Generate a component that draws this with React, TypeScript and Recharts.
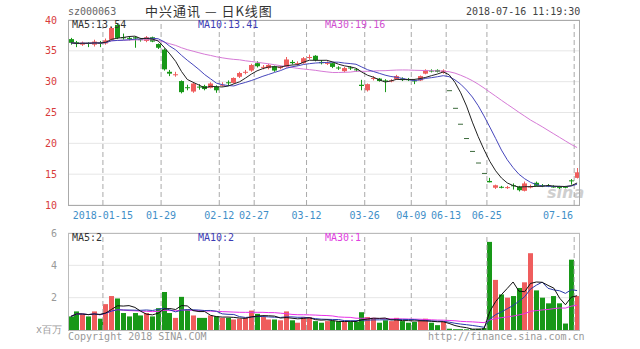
import React from "react";
import {
  ComposedChart,
  Bar,
  Line,
  XAxis,
  YAxis,
  CartesianGrid,
  ReferenceLine,
} from "recharts";

// 000063 daily candles, 2018-01-05 .. 2018-07-16 (suspended 04-17 .. 06-12)
const dates = [
  "2018-01-05",
  "2018-01-08", "2018-01-09", "2018-01-10", "2018-01-11", "2018-01-12",
  "2018-01-15", "2018-01-16", "2018-01-17", "2018-01-18", "2018-01-19",
  "2018-01-22", "2018-01-23", "2018-01-24", "2018-01-25", "2018-01-26",
  "2018-01-29", "2018-01-30", "2018-01-31", "2018-02-01", "2018-02-02",
  "2018-02-05", "2018-02-06", "2018-02-07", "2018-02-08", "2018-02-09",
  "2018-02-12", "2018-02-13", "2018-02-14", "2018-02-22", "2018-02-23",
  "2018-02-26", "2018-02-27", "2018-02-28", "2018-03-01", "2018-03-02",
  "2018-03-05", "2018-03-06", "2018-03-07", "2018-03-08", "2018-03-09",
  "2018-03-12", "2018-03-13", "2018-03-14", "2018-03-15", "2018-03-16",
  "2018-03-19", "2018-03-20", "2018-03-21", "2018-03-22", "2018-03-23",
  "2018-03-26", "2018-03-27", "2018-03-28", "2018-03-29", "2018-03-30",
  "2018-04-02", "2018-04-03", "2018-04-04",
  "2018-04-09", "2018-04-10", "2018-04-11", "2018-04-12", "2018-04-13", "2018-04-16",
  "2018-06-13", "2018-06-14", "2018-06-15",
  "2018-06-19", "2018-06-20", "2018-06-21", "2018-06-22",
  "2018-06-25", "2018-06-26", "2018-06-27", "2018-06-28", "2018-06-29",
  "2018-07-02", "2018-07-03", "2018-07-04", "2018-07-05", "2018-07-06",
  "2018-07-09", "2018-07-10", "2018-07-11", "2018-07-12", "2018-07-13",
  "2018-07-16",
];

const opens = [
  36.9, 36.4, 36.0, 36.3, 36.0, 36.3,
  36.2, 36.8, 39.2, 37.2, 37.1,
  37.2, 36.9, 36.6, 37.2, 36.1,
  35.2, 31.6, 31.1, 30.1, 29.1,
  28.4, 29.2, 29.3, 29.0, 29.2,
  29.4, 29.9, 29.8, 30.8, 31.5,
  31.8, 33.0, 32.3, 32.2, 32.5,
  32.2, 32.4, 33.2, 32.9, 33.0,
  33.9, 34.2, 33.2, 32.9, 33.0,
  32.3, 31.7, 32.3, 32.0, 29.5,
  28.6, 30.5, 30.5, 30.2, 30.1,
  30.4, 30.5, 30.4,
  30.2, 30.2, 31.3, 31.8, 31.9, 31.5,
  28.62, 25.76, 23.18,
  20.86, 18.77, 16.89, 15.2,
  13.9, 12.8, 12.95, 12.85, 13.2,
  13.0, 12.3, 12.9, 13.6, 13.2,
  13.15, 13.0, 12.9, 12.95, 14.0,
  14.4,
];

const highs = [
  37.1, 36.6, 36.5, 36.4, 36.8, 36.6,
  37.0, 38.9, 39.5, 37.8, 37.4,
  37.3, 37.1, 37.4, 37.3, 36.2,
  35.4, 31.9, 31.6, 30.2, 29.5,
  29.9, 29.6, 29.5, 29.9, 29.4,
  29.9, 30.2, 30.7, 31.6, 31.9,
  32.9, 33.3, 32.7, 32.9, 32.6,
  32.6, 34.0, 33.5, 33.3, 34.0,
  34.4, 34.3, 33.5, 33.3, 33.1,
  32.5, 32.4, 32.5, 32.2, 30.3,
  29.7, 30.9, 30.6, 30.4, 30.4,
  31.1, 30.7, 30.6,
  30.4, 31.0, 32.0, 32.0, 32.0, 32.0,
  28.62, 25.76, 23.18,
  20.86, 18.77, 16.89, 15.2,
  14.4, 13.3, 13.1, 13.1, 13.5,
  13.1, 13.8, 13.3, 13.8, 13.4,
  13.4, 13.2, 13.1, 13.1, 14.2,
  16.0,
];

const lows = [
  36.0, 35.6, 35.8, 35.6, 35.7, 35.6,
  36.0, 36.6, 36.9, 36.8, 36.7,
  35.5, 36.5, 36.4, 36.4, 35.3,
  31.8, 30.9, 30.8, 28.1, 28.6,
  28.2, 28.7, 28.6, 28.9, 28.2,
  29.2, 29.3, 29.7, 30.6, 31.2,
  31.6, 32.3, 32.0, 32.0, 31.6,
  32.0, 32.3, 32.8, 32.6, 32.9,
  33.6, 33.3, 32.8, 32.7, 32.2,
  31.9, 31.5, 31.9, 31.6, 28.6,
  28.4, 30.2, 30.0, 28.3, 29.9,
  30.3, 30.1, 30.1,
  29.6, 30.1, 31.2, 31.5, 31.5, 31.3,
  28.62, 25.76, 23.18,
  20.86, 18.77, 16.89, 15.2,
  13.68, 12.6, 12.7, 12.6, 12.5,
  12.2, 12.2, 12.7, 13.0, 12.9,
  12.9, 12.8, 12.6, 12.7, 13.3,
  14.3,
];

const closes = [
  36.3, 36.1, 36.3, 36.2, 36.5, 36.25,
  36.7, 38.7, 37.1, 37.1, 37.0,
  37.0, 36.8, 37.2, 36.5, 35.5,
  32.0, 31.3, 31.2, 28.3, 29.0,
  29.7, 29.1, 28.8, 29.7, 28.6,
  29.5, 29.8, 30.6, 31.4, 31.6,
  32.7, 32.5, 32.4, 32.7, 31.8,
  32.4, 33.6, 33.0, 33.0, 33.8,
  34.0, 33.5, 33.0, 33.05, 32.4,
  32.2, 32.2, 32.2, 31.9, 29.3,
  29.6, 30.6, 30.1, 30.1, 30.2,
  30.9, 30.3, 30.3,
  30.1, 30.9, 31.9, 31.7, 31.6, 31.8,
  28.62, 25.76, 23.18,
  20.86, 18.77, 16.89, 15.2,
  13.68, 13.2, 12.9, 12.9, 13.1,
  12.4, 13.5, 13.0, 13.1, 13.15,
  13.1, 12.95, 12.85, 12.9, 13.85,
  15.3,
];

// volume, x百万
const volumes = [
  0.84, 1.15, 0.98, 0.84, 1.15, 0.7,
  1.6, 2.1, 1.95, 1.05, 0.84,
  1.05, 0.9, 1.05, 0.84, 1.35,
  2.35, 1.05, 0.75, 2.05, 1.25,
  0.9, 0.75, 0.75, 0.9, 0.85,
  0.75, 0.75, 0.65, 0.7, 0.75,
  1.2, 1.0, 0.8, 0.65, 0.65,
  0.6, 1.15, 0.6, 0.45, 0.8,
  0.8, 0.55, 0.45, 0.55, 0.57,
  0.55, 0.5, 0.5, 0.5, 1.1,
  0.8, 0.75, 0.45, 0.6, 0.55,
  0.75, 0.55, 0.45,
  0.5, 0.6, 0.7, 0.45, 0.3, 0.5,
  0.08, 0.05, 0.05,
  0.04, 0.05, 0.07, 0.12,
  5.45, 3.1, 2.2, 2.0, 2.1,
  2.6, 2.95, 4.75, 2.45, 2.0,
  1.65, 2.1, 1.65, 0.4, 4.35,
  2.1,
];

const tickDates = [
  "2018-01-15", "2018-01-29", "2018-02-12", "2018-02-27", "2018-03-12",
  "2018-03-26", "2018-04-09", "2018-06-13", "2018-06-25", "2018-07-16",
];
const priceTicks = [10, 15, 20, 25, 30, 35, 40];
const volTicks = [2, 4, 6];

const RED = "#ef5d5d";
const GREEN = "#189818";
const MONO = '"DejaVu Sans Mono", monospace';

const movingAvg = (arr: number[], n: number) =>
  arr.map((_, i) => {
    const win = arr.slice(Math.max(0, i - n + 1), i + 1);
    return win.reduce((a, b) => a + b, 0) / win.length;
  });

const ma5 = movingAvg(closes, 5);
const ma10 = movingAvg(closes, 10);
const ma30 = movingAvg(closes, 30);
const vma5 = movingAvg(volumes, 5);
const vma10 = movingAvg(volumes, 10);
const vma30 = movingAvg(volumes, 30);

const data = dates.map((d, i) => {
  const prev = i > 0 ? closes[i - 1] : opens[i];
  const up =
    closes[i] > opens[i] || (closes[i] === opens[i] && closes[i] >= prev);
  return {
    date: d,
    open: opens[i],
    high: highs[i],
    low: lows[i],
    close: closes[i],
    range: [lows[i], highs[i]],
    vol: volumes[i],
    up,
    ma5: ma5[i],
    ma10: ma10[i],
    ma30: ma30[i],
    vma5: vma5[i],
    vma10: vma10[i],
    vma30: vma30[i],
  };
});

const Candle = (props: any) => {
  const { x, y, width, height, payload } = props;
  const { open, close, high, low, up } = payload;
  const top = Math.min(y, y + height);
  const h = Math.abs(height);
  // one-price limit-down days are drawn as a darker dash
  const color = high === low ? "#3d6b3d" : up ? RED : GREEN;
  const cx = Math.floor(x + width / 2);
  const py = (v: number) =>
    high === low ? top : top + ((high - v) / (high - low)) * h;
  const bodyTop = py(Math.max(open, close));
  const bodyH = Math.max(1, py(Math.min(open, close)) - bodyTop);
  return (
    <g>
      {h > 0 && (
        <line x1={cx + 0.5} x2={cx + 0.5} y1={top} y2={top + h} stroke={color} strokeWidth={1} />
      )}
      <rect x={cx - 2} y={bodyTop} width={5} height={bodyH} fill={color} />
    </g>
  );
};

const VolBar = (props: any) => {
  const { x, y, width, height, payload } = props;
  const cx = Math.floor(x + width / 2);
  return (
    <rect
      x={cx - 2}
      y={y}
      width={5}
      height={Math.max(0, height)}
      fill={payload.up ? RED : GREEN}
    />
  );
};

const DateTick = ({ x, y, payload }: any) => {
  const v: string = payload.value;
  const last = v === tickDates[tickDates.length - 1];
  const label = v === tickDates[0] ? v : v.slice(5);
  return (
    <text
      x={last ? x - 4 : x - 3}
      y={y + 1}
      dy="0.71em"
      textAnchor={last ? "end" : "middle"}
      fill="#3f8fc8"
      fontSize={10}
      fontFamily={MONO}
    >
      {label}
    </text>
  );
};

const Label = ({ left, top, color, children, size = 10, font = MONO, spacing = 0 }: any) => (
  <div
    style={{
      position: "absolute",
      left,
      top,
      color,
      fontSize: size,
      fontFamily: font,
      lineHeight: "12px",
      whiteSpace: "nowrap",
      letterSpacing: spacing,
    }}
  >
    {children}
  </div>
);

export default function App() {
  return (
    <div
      style={{
        position: "absolute",
        left: 0,
        top: 0,
        width: 640,
        height: 349,
        background: "#fff",
        overflow: "hidden",
      }}
    >
      <div
        style={{
          position: "absolute",
          left: 547,
          top: 183,
          fontFamily: '"DejaVu Sans", sans-serif',
          fontStyle: "italic",
          fontWeight: "bold",
          fontSize: 16,
          color: "#cfcfcf",
        }}
      >
        sina
      </div>

      <div style={{ position: "absolute", left: 0, top: 0 }}>
        <ComposedChart
          width={640}
          height={225}
          data={data}
          margin={{ top: 20, right: 60, bottom: 0, left: 0 }}
        >
          <CartesianGrid vertical={false} stroke="#e6e6e6" />
          {tickDates.map((d) => (
            <ReferenceLine
              key={d}
              x={d}
              position="start"
              stroke="#aaa"
              strokeDasharray="5 3"
            />
          ))}
          <XAxis
            dataKey="date"
            ticks={tickDates}
            interval={0}
            height={20}
            axisLine={false}
            tickLine={false}
            tickSize={0}
            tickMargin={6}
            tick={<DateTick />}
          />
          <YAxis
            domain={[10, 40]}
            ticks={priceTicks}
            allowDataOverflow
            width={68}
            axisLine={false}
            tickLine={false}
            tickMargin={5}
            tick={{ fill: "#d83c3c", fontSize: 10, fontFamily: MONO }}
          />
          <Bar dataKey="range" shape={<Candle />} isAnimationActive={false} />
          <Line type="linear" dataKey="ma30" stroke="#d67ad6" strokeWidth={1} dot={false} isAnimationActive={false} />
          <Line type="linear" dataKey="ma10" stroke="#4646bc" strokeWidth={1} dot={false} isAnimationActive={false} />
          <Line type="linear" dataKey="ma5" stroke="#222" strokeWidth={1} dot={false} isAnimationActive={false} />
        </ComposedChart>
      </div>

      <div style={{ position: "absolute", left: 0, top: 0 }}>
        <ComposedChart
          width={640}
          height={330}
          data={data}
          margin={{ top: 233, right: 60, bottom: 0, left: 0 }}
        >
          <CartesianGrid vertical={false} stroke="#e6e6e6" />
          {tickDates.map((d) => (
            <ReferenceLine
              key={d}
              x={d}
              position="start"
              stroke="#aaa"
              strokeDasharray="5 3"
            />
          ))}
          <XAxis dataKey="date" hide />
          <YAxis
            domain={[0, 6]}
            ticks={volTicks}
            allowDataOverflow
            width={68}
            axisLine={false}
            tickLine={false}
            tickMargin={5}
            tick={{ fill: "#999", fontSize: 10, fontFamily: MONO }}
          />
          <Bar dataKey="vol" shape={<VolBar />} isAnimationActive={false} />
          <Line type="linear" dataKey="vma30" stroke="#e830e8" strokeWidth={1} dot={false} isAnimationActive={false} />
          <Line type="linear" dataKey="vma10" stroke="#2a3aaa" strokeWidth={1} dot={false} isAnimationActive={false} />
          <Line type="linear" dataKey="vma5" stroke="#111" strokeWidth={1} dot={false} isAnimationActive={false} />
        </ComposedChart>
      </div>

      {/* panel borders */}
      <div
        style={{
          position: "absolute",
          left: 68,
          top: 20,
          width: 512,
          height: 186,
          boxSizing: "border-box",
          border: "1px solid #aaa",
          pointerEvents: "none",
        }}
      />
      <div
        style={{
          position: "absolute",
          left: 68,
          top: 233,
          width: 512,
          height: 98,
          boxSizing: "border-box",
          border: "1px solid #bbb",
          pointerEvents: "none",
        }}
      />

      <Label left={68} top={6} color="#666">sz000063</Label>
      <Label left={145} top={5} color="#333" size={13} spacing={1} font='"Noto Sans CJK SC", sans-serif'>
        中兴通讯 — 日K线图
      </Label>
      <Label left={466} top={6} color="#444">2018-07-16 11:19:30</Label>

      <Label left={72} top={19} color="#333">MA5:13.54</Label>
      <Label left={198} top={19} color="#3c3cb4">MA10:13.41</Label>
      <Label left={325} top={19} color="#d050d0">MA30:19.16</Label>

      <Label left={72} top={232} color="#333">MA5:2</Label>
      <Label left={198} top={232} color="#3c3cb4">MA10:2</Label>
      <Label left={325} top={232} color="#e040e0">MA30:1</Label>

      <Label left={36} top={324} color="#999">x百万</Label>
      <Label left={68} top={331} color="#999">Copyright 2018 SINA.COM</Label>
      <Label left={428} top={331} color="#999">http://finance.sina.com.cn</Label>
    </div>
  );
}
